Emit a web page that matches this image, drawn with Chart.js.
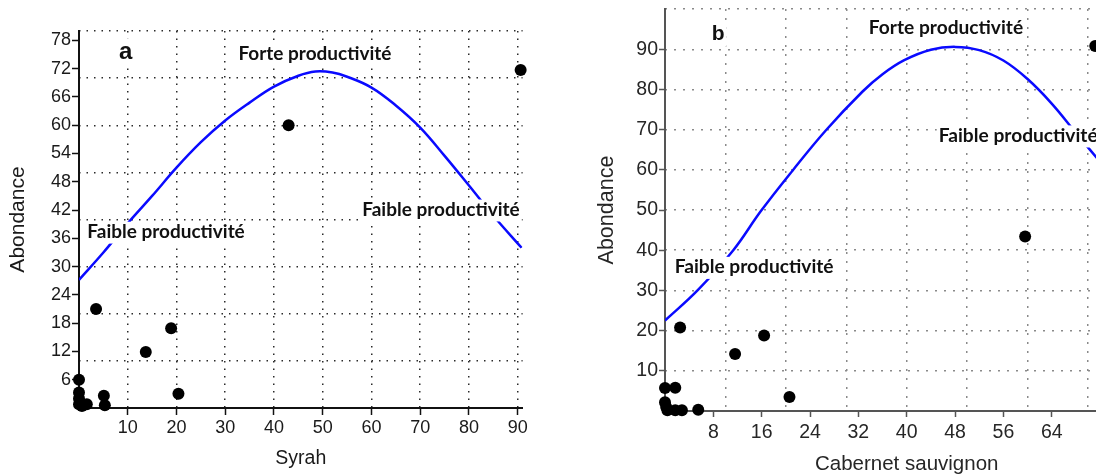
<!DOCTYPE html>
<html><head><meta charset="utf-8">
<script src="https://cdn.jsdelivr.net/npm/chart.js@4.4.1/dist/chart.umd.min.js"></script>
<style>
html,body{margin:0;padding:0;background:#fff;overflow:hidden;width:1096px;height:475px;}
#ca{position:absolute;left:0;top:0;}
#cb{position:absolute;left:548px;top:0;}
</style></head><body>
<canvas id="ca" width="548" height="475"></canvas>
<canvas id="cb" width="620" height="475"></canvas>
<script>
// ---------- Panel a (Syrah) ----------
const pointsAX = [0, 0, 0, 0, 0.6, 1.6, 3.5, 5.1, 5.3, 13.7, 18.9, 20.4, 43.0, 90.6];
const pointsAY = [6, 3.3, 2.0, 0.8, 0.4, 0.8, 21, 2.6, 0.6, 11.9, 16.9, 3.0, 60, 71.7];
const curveAX = [0, 5, 10, 15, 20, 25, 30, 35, 40, 45, 48.5, 52, 55, 60, 65, 70, 75, 80, 85, 90.8];
const curveAY = [27.2, 33, 39.2, 45, 51, 56.4, 61, 64.8, 68.2, 70.5, 71.4, 71.2, 70.3, 68, 64.2, 59.5, 53.5, 47.2, 40.8, 34];
const xTicksA = [10, 20, 30, 40, 50, 60, 70, 80, 90];
const yTicksA = [6, 12, 18, 24, 30, 36, 42, 48, 54, 60, 66, 72, 78];
const xGridA = [10, 20, 30, 40, 50, 60, 70, 80, 90];
const yGridA = [10, 20, 30, 40, 50, 60, 70, 80];

// ---------- Panel b (Cabernet sauvignon) ----------
const pointsBX = [0, 1.7, 0, 0.2, 0.4, 1.7, 2.8, 5.5, 2.5, 11.6, 16.4, 20.6, 59.6, 71.2];
const pointsBY = [5.7, 5.8, 2.2, 1.0, 0.2, 0.2, 0.2, 0.3, 20.8, 14.2, 18.8, 3.5, 43.4, 90.8];
const curveBX = [0, 5.5, 11.3, 15.9, 21.1, 26.6, 32.7, 36, 39.6, 44, 48, 52, 56, 60, 64, 68, 72];
const curveBY = [22.5, 30.2, 40, 49.8, 59.8, 69.8, 79.5, 83.8, 87.3, 89.9, 90.6, 89.8, 87.2, 82.6, 76.5, 69.2, 62];
const xTicksB = [8, 16, 24, 32, 40, 48, 56, 64];
const yTicksB = [10, 20, 30, 40, 50, 60, 70, 80, 90];
const xGridB = [10, 20, 30, 40, 50, 60, 70, 80];
const yGridB = [10, 20, 30, 40, 50, 60, 70, 80, 90, 100];

const titleXA = 'Syrah', titleXB = 'Cabernet sauvignon', titleY = 'Abondance';
const highLabel = 'Forte productivité', lowLabel = 'Faible productivité';

const zip = (xs, ys) => xs.map((v, i) => ({x: v, y: ys[i]}));
const setTicks = arr => s => { s.ticks = arr.map(v => ({value: v})); };
const fixBox = (w, h) => s => {
  if (w !== null) s.width = w;
  if (h !== null) s.height = h;
  s.paddingLeft = 0; s.paddingRight = 0; s.paddingTop = 0; s.paddingBottom = 0;
};
const SANS = '"Liberation Sans", Arial, sans-serif';

const annot = {
  id: 'annot',
  afterDatasetsDraw(chart, args, opts) {
    const ctx = chart.ctx, xs = chart.scales.x, ys = chart.scales.y;
    ctx.save();
    ctx.font = 'bold 100px Lato';
    const k = ctx.measureText(highLabel).width / 100;
    const lblSize = opts.labelWidth / k;
    for (const a of opts.items) {
      const px = xs.getPixelForValue(a.x), py = ys.getPixelForValue(a.y);
      const size = a.size || lblSize;
      ctx.font = 'bold ' + size + 'px ' + (a.family || 'Lato');
      ctx.textAlign = a.align;
      ctx.textBaseline = 'alphabetic';
      const w = ctx.measureText(a.text).width;
      const left = a.align === 'center' ? px - w / 2 : px;
      ctx.fillStyle = '#fff';
      ctx.fillRect(left - 2, py - size * 0.85, w + 4, size * 1.15);
      ctx.fillStyle = '#111';
      ctx.fillText(a.text, px, py);
    }
    ctx.restore();
  }
};

function makeChart(id, cfg) {
  const tickFont = {family: SANS, size: cfg.tickSize};
  return new Chart(document.getElementById(id), {
    type: 'scatter',
    data: {datasets: [
      {data: zip(cfg.px, cfg.py), pointRadius: 6, pointHoverRadius: 6, backgroundColor: '#000', borderColor: '#000', borderWidth: 0, clip: false},
      {data: zip(cfg.cx, cfg.cy), showLine: true, pointRadius: 0, borderColor: '#0a0aff', borderWidth: 2.5, tension: 0.4, fill: false}
    ]},
    options: {
      responsive: false, animation: false, events: [],
      layout: {padding: cfg.pad},
      plugins: {legend: {display: false}, tooltip: {enabled: false}, annot: {items: cfg.annots, labelWidth: cfg.labelWidth}},
      scales: {
        x: {type: 'linear', position: 'bottom', min: 0, max: cfg.xmax,
          afterBuildTicks: setTicks(cfg.xticks), afterFit: fixBox(null, cfg.xh),
          ticks: {autoSkip: false, maxRotation: 0, padding: cfg.xpad, color: cfg.textColor, font: tickFont},
          grid: {display: true, drawOnChartArea: false, drawTicks: true, tickLength: cfg.tl, tickColor: cfg.axisColor, tickWidth: 1.5},
          border: {display: true, color: cfg.axisColor, width: 2},
          title: {display: true, text: cfg.xtitle, color: cfg.textColor, padding: 0, font: {family: SANS, size: cfg.xtSize, lineHeight: cfg.xtLH}}
        },
        xg: {type: 'linear', position: 'bottom', min: 0, max: cfg.xmax,
          afterBuildTicks: setTicks(cfg.xgrid), afterFit: fixBox(null, 0),
          ticks: {display: false},
          grid: {display: true, drawOnChartArea: true, drawTicks: false, color: cfg.gridColor, lineWidth: 1.5},
          border: {display: false, dash: cfg.dash}
        },
        y: {type: 'linear', position: 'left', min: 0, max: cfg.ymax,
          afterBuildTicks: setTicks(cfg.yticks), afterFit: fixBox(cfg.yw, null),
          ticks: {autoSkip: false, padding: 1, color: cfg.textColor, font: tickFont},
          grid: {display: true, drawOnChartArea: false, drawTicks: true, tickLength: cfg.tl, tickColor: cfg.axisColor, tickWidth: 1.5},
          border: {display: true, color: cfg.axisColor, width: 2},
          title: {display: true, text: titleY, color: cfg.textColor, padding: 0, font: {family: SANS, size: cfg.ytSize}}
        },
        yg: {type: 'linear', position: 'left', min: 0, max: cfg.ymax,
          afterBuildTicks: setTicks(cfg.ygrid), afterFit: fixBox(0, null),
          ticks: {display: false},
          grid: {display: true, drawOnChartArea: true, drawTicks: false, color: cfg.gridColor, lineWidth: 1.5},
          border: {display: false, dash: cfg.dash}
        }
      }
    },
    plugins: [annot]
  });
}

makeChart('ca', {
  px: pointsAX, py: pointsAY, cx: curveAX, cy: curveAY,
  xticks: xTicksA, yticks: yTicksA, xgrid: xGridA, ygrid: yGridA,
  xmax: 91, ymax: 80, xtitle: titleXA,
  pad: {left: 5.4, top: 31, right: 25.4, bottom: 4.8},
  xh: 62.2, yw: 73.6, tl: 7, xpad: 2.5, tickSize: 18, xtSize: 19.5, xtLH: 1.2, ytSize: 21,
  textColor: '#1a1a1a', axisColor: '#111', gridColor: '#2a2a2a', dash: [1.5, 6],
  labelWidth: 153,
  annots: [
    {text: 'a', x: 9.6, y: 74.1, align: 'center', size: 24, family: SANS},
    {text: highLabel, x: 48.4, y: 73.9, align: 'center'},
    {text: lowLabel, x: 58.1, y: 40.8, align: 'left'},
    {text: lowLabel, x: 1.7, y: 36.1, align: 'left'}
  ]
});

makeChart('cb', {
  px: pointsBX, py: pointsBY, cx: curveBX, cy: curveBY,
  xticks: xTicksB, yticks: yTicksB, xgrid: xGridB, ygrid: yGridB,
  xmax: 80, ymax: 100, xtitle: titleXB,
  pad: {left: 46.1, top: 9.1, right: 19.6, bottom: 0},
  xh: 64, yw: 70.9, tl: 6, xpad: 4, tickSize: 19.5, xtSize: 20.5, xtLH: 1.0, ytSize: 21.5,
  textColor: '#262626', axisColor: '#555', gridColor: '#8a8a8a', dash: [2, 7],
  labelWidth: 154.5,
  annots: [
    {text: 'b', x: 8.8, y: 92.2, align: 'center', size: 21, family: SANS},
    {text: highLabel, x: 46.5, y: 93.9, align: 'center'},
    {text: lowLabel, x: 45.3, y: 67.0, align: 'left'},
    {text: lowLabel, x: 1.6, y: 34.3, align: 'left'}
  ]
});
</script>
</body></html>
